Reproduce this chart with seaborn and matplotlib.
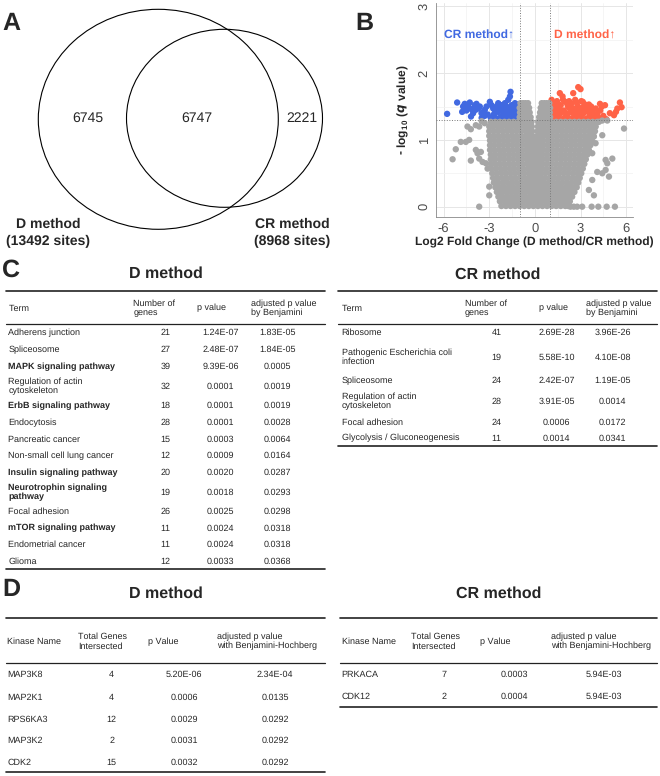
import numpy as np
import pandas as pd
import seaborn as sns
import matplotlib.pyplot as plt
from matplotlib.patches import Ellipse

sns.set_style("white")
plt.rcParams['font.family'] = ['Liberation Sans', 'DejaVu Sans']
plt.rcParams['axes.unicode_minus'] = False
plt.rcParams['text.hinting'] = 'no_hinting'
plt.rcParams['text.hinting_factor'] = 1
plt.rcParams['mathtext.fontset'] = 'custom'
plt.rcParams['mathtext.rm'] = 'Liberation Sans'
plt.rcParams['mathtext.it'] = 'Liberation Sans:italic'
plt.rcParams['mathtext.bf'] = 'Liberation Sans:bold'

# ---- panel A: venn counts
venn_counts = [6745, 6747, 2221]
venn_names = ["D method", "CR method"]
venn_sites = [13492, 8968]

# ---- panel B: volcano points
blue_x = [-5.77, -5.11, -4.78, -4.72, -4.61, -4.39, -4.28, -4.17, -4.06, -3.95, -3.84, -3.73,
          -3.62, -3.51, -3.40, -3.29, -3.18, -2.96, -2.85, -2.74, -2.63, -2.52, -2.41, -2.30,
          -2.19, -2.08, -1.97, -1.86, -1.75, -1.64, -1.60, -1.53, -1.42, -1.31, -1.20, -1.09,
          -2.9, -2.7, -2.5, -2.4, -2.2, -2.0, -1.9, -1.8, -1.7, -1.6, -1.5, -1.4, -1.3, -1.2,
          -1.1, -1.05, -1.6, -1.4, -1.25, -1.15, -1.35, -1.75, -2.1, -2.6, -3.1, -3.5, -4.2,
          -4.5, -3.9, -2.3, -1.95, -1.45, -1.1, -1.3, -1.55, -2.8, -3.3]
blue_y = [1.39, 1.56, 1.42, 1.50, 1.54, 1.51, 1.56, 1.46, 1.40, 1.52, 1.54, 1.47,
          1.50, 1.40, 1.42, 1.45, 1.50, 1.57, 1.52, 1.47, 1.40, 1.50, 1.55, 1.45,
          1.52, 1.42, 1.55, 1.50, 1.60, 1.65, 1.72, 1.52, 1.45, 1.55, 1.40, 1.50,
          1.33, 1.38, 1.32, 1.42, 1.35, 1.31, 1.38, 1.44, 1.33, 1.40, 1.36, 1.31, 1.42, 1.33,
          1.37, 1.45, 1.48, 1.50, 1.47, 1.53, 1.38, 1.37, 1.48, 1.45, 1.38, 1.33, 1.35,
          1.44, 1.45, 1.33, 1.46, 1.41, 1.32, 1.31, 1.32, 1.32, 1.36]

red_x = [1.64, 1.82, 2.52, 2.85, 3.00, 4.61, 4.28, 4.93, 5.20, 5.33, 5.42, 5.59, 5.70,
         1.05, 1.1, 1.2, 1.3, 1.4, 1.5, 1.6, 1.7, 1.8, 1.9, 2.0, 2.1, 2.2, 2.3, 2.4, 2.5,
         2.6, 2.7, 2.8, 2.9, 3.0, 3.1, 3.2, 3.3, 3.4, 3.5, 3.6, 3.7, 3.8, 3.9, 4.0, 4.1,
         4.3, 4.5, 4.7, 1.15, 1.25, 1.45, 1.55, 1.75, 1.95, 2.15, 2.35, 2.55, 2.75, 2.95,
         3.15, 3.35, 3.55, 3.75, 1.35, 1.65, 2.05, 2.45, 2.85, 3.25, 3.65, 4.2, 4.4, 1.1,
         1.85, 2.25, 2.65, 3.05, 1.05, 1.3, 1.55, 2.0, 2.4, 2.8, 3.2, 3.6]
red_y = [1.70, 1.65, 1.70, 1.79, 1.76, 1.52, 1.54, 1.40, 1.37, 1.42, 1.47, 1.56, 1.49,
         1.35, 1.50, 1.42, 1.55, 1.33, 1.46, 1.38, 1.52, 1.31, 1.44, 1.57, 1.36, 1.49, 1.41, 1.54, 1.33,
         1.46, 1.38, 1.51, 1.43, 1.35, 1.48, 1.40, 1.53, 1.32, 1.45, 1.37, 1.50, 1.42, 1.34, 1.47, 1.39,
         1.44, 1.36, 1.31, 1.32, 1.47, 1.58, 1.30, 1.41, 1.33, 1.52, 1.31, 1.40, 1.56, 1.31,
         1.57, 1.43, 1.53, 1.33, 1.38, 1.45, 1.40, 1.47, 1.36, 1.47, 1.43, 1.33, 1.50, 1.60,
         1.60, 1.58, 1.60, 1.58, 1.55, 1.31, 1.52, 1.32, 1.31, 1.31, 1.31, 1.31]

gray_rows_y = [1.55, 1.48, 1.41, 1.34, 1.27, 1.20, 1.13, 1.06, 0.99, 0.92, 0.85, 0.78,
               0.71, 0.64, 0.57, 0.50, 0.43, 0.36, 0.29, 0.22, 0.15, 0.08, 0.01]
gray_rows_x = [
    [-0.95, -0.78, -0.62, -0.45, 0.45, 0.62, 0.78, 0.95],
    [-1.0, -0.84, -0.68, -0.52, -0.38, 0.38, 0.52, 0.68, 0.84, 1.0],
    [-0.98, -0.82, -0.66, -0.5, -0.34, 0.34, 0.5, 0.66, 0.82, 0.98],
    [-1.0, -0.84, -0.68, -0.52, -0.38, -0.28, 0.28, 0.4, 0.55, 0.72, 0.88, 1.0],
    [-2.9, -2.6, -2.3, -2.0, -1.7, -1.4, -1.1, -0.85, -0.6, -0.4, -0.22, 0.22, 0.4, 0.6, 0.85, 1.1, 1.4, 1.7, 2.0, 2.3, 2.6, 2.9, 3.2, 3.5, 3.8, 4.1],
    [-3.0, -2.75, -2.45, -2.15, -1.85, -1.55, -1.25, -0.95, -0.65, -0.4, -0.2, 0.2, 0.4, 0.6, 0.9, 1.2, 1.5, 1.8, 2.1, 2.4, 2.7, 3.0, 3.3, 3.6, 3.85, 4.0],
    [-3.0, -2.7, -2.4, -2.1, -1.8, -1.5, -1.2, -0.9, -0.6, -0.38, -0.18, 0.18, 0.38, 0.6, 0.85, 1.15, 1.45, 1.75, 2.05, 2.35, 2.65, 2.95, 3.25, 3.55, 3.8, 3.95],
    [-3.0, -2.72, -2.42, -2.12, -1.82, -1.52, -1.22, -0.92, -0.62, -0.36, -0.16, 0.16, 0.36, 0.6, 0.9, 1.2, 1.5, 1.8, 2.1, 2.4, 2.7, 3.0, 3.3, 3.6, 3.85],
    [-2.95, -2.65, -2.35, -2.05, -1.75, -1.45, -1.15, -0.85, -0.55, -0.32, -0.13, 0.13, 0.32, 0.55, 0.85, 1.15, 1.45, 1.75, 2.05, 2.35, 2.65, 2.95, 3.25, 3.5, 3.75],
    [-2.95, -2.68, -2.38, -2.08, -1.78, -1.48, -1.18, -0.88, -0.58, -0.32, -0.12, 0.12, 0.32, 0.58, 0.88, 1.18, 1.48, 1.78, 2.08, 2.38, 2.68, 2.98, 3.28, 3.5, 3.65],
    [-2.95, -2.65, -2.35, -2.05, -1.75, -1.45, -1.15, -0.85, -0.55, -0.3, -0.1, 0.1, 0.3, 0.55, 0.85, 1.15, 1.45, 1.75, 2.05, 2.35, 2.65, 2.95, 3.25, 3.55],
    [-2.9, -2.6, -2.3, -2.0, -1.7, -1.4, -1.1, -0.8, -0.5, -0.28, -0.09, 0.09, 0.28, 0.5, 0.8, 1.1, 1.4, 1.7, 2.0, 2.3, 2.6, 2.9, 3.2, 3.45],
    [-2.9, -2.62, -2.32, -2.02, -1.72, -1.42, -1.12, -0.82, -0.52, -0.27, -0.08, 0.08, 0.27, 0.52, 0.82, 1.12, 1.42, 1.72, 2.02, 2.32, 2.62, 2.92, 3.2, 3.35],
    [-2.9, -2.6, -2.3, -2.0, -1.7, -1.4, -1.1, -0.8, -0.5, -0.25, -0.07, 0.07, 0.25, 0.5, 0.8, 1.1, 1.4, 1.7, 2.0, 2.3, 2.6, 2.9, 3.15, 3.25],
    [-2.85, -2.55, -2.25, -1.95, -1.65, -1.35, -1.05, -0.75, -0.45, -0.22, -0.06, 0.06, 0.22, 0.45, 0.75, 1.05, 1.35, 1.65, 1.95, 2.25, 2.55, 2.85, 3.15],
    [-2.8, -2.5, -2.2, -1.9, -1.6, -1.3, -1.0, -0.7, -0.4, -0.2, -0.05, 0.05, 0.2, 0.4, 0.7, 1.0, 1.3, 1.6, 1.9, 2.2, 2.5, 2.8, 3.05],
    [-2.75, -2.47, -2.17, -1.87, -1.57, -1.27, -0.97, -0.67, -0.4, -0.18, 0.0, 0.18, 0.4, 0.67, 0.97, 1.27, 1.57, 1.87, 2.17, 2.47, 2.77, 2.95],
    [-2.7, -2.4, -2.1, -1.8, -1.5, -1.2, -0.9, -0.6, -0.35, -0.15, 0.02, 0.18, 0.35, 0.6, 0.9, 1.2, 1.5, 1.8, 2.1, 2.4, 2.7, 2.85],
    [-2.6, -2.32, -2.02, -1.72, -1.42, -1.12, -0.82, -0.52, -0.22, 0.0, 0.22, 0.52, 0.82, 1.12, 1.42, 1.72, 2.02, 2.32, 2.6, 2.75],
    [-2.5, -2.2, -1.9, -1.6, -1.3, -1.0, -0.7, -0.4, -0.1, 0.15, 0.4, 0.7, 1.0, 1.3, 1.6, 1.9, 2.2, 2.45, 2.6],
    [-2.4, -2.12, -1.82, -1.52, -1.22, -0.92, -0.62, -0.32, -0.05, 0.25, 0.55, 0.85, 1.15, 1.45, 1.75, 2.05, 2.3, 2.45],
    [-2.3, -2.0, -1.7, -1.4, -1.1, -0.8, -0.5, -0.2, 0.1, 0.4, 0.7, 1.0, 1.3, 1.6, 1.9, 2.15, 2.3],
    [-2.2, -1.9, -1.6, -1.3, -1.0, -0.7, -0.4, -0.1, 0.2, 0.5, 0.8, 1.1, 1.4, 1.7, 2.0, 2.2],
]
gray_out_x = [-4.43, -4.21, -3.88, -3.66, -4.87, -4.54, -4.32, -5.20, -5.41, -4.21, -3.88, -3.77,
              -3.55, -3.66, -3.44, -3.22, -3.11, -3.0, -3.0, -3.66, -3.3, -3.5,
              4.21, 4.43, 4.76, 5.86, 3.88, 4.43, 3.99, 3.77, 4.65, 4.76, 5.09, 4.10, 4.43,
              4.65, 4.87, 3.77, 3.55, 3.88, 2.34, 2.56, 2.78, 3.11, 3.73, 4.17, 4.72, 5.26]
gray_out_y = [1.20, 1.16, 1.22, 1.20, 0.97, 0.97, 1.00, 0.86, 0.71, 0.69, 0.85, 0.80,
              0.82, 0.72, 0.67, 0.65, 0.57, 0.17, 0.30, 0.0, 1.25, 1.28,
              1.27, 1.29, 1.29, 1.17, 1.05, 1.07, 0.95, 0.80, 0.70, 0.65, 0.72, 0.52, 0.50,
              0.55, 0.45, 0.40, 0.25, 0.17, 0.0, 0.0, 0.0, 0.0, 0.0, 0.0, 0.0, 0.0]

# ---- panel C tables
c_terms_d = ["Adherens junction", "Spliceosome", "MAPK signaling pathway",
             "Regulation of actin\ncytoskeleton", "ErbB signaling pathway", "Endocytosis",
             "Pancreatic cancer", "Non-small cell lung cancer", "Insulin signaling pathway",
             "Neurotrophin signaling\npathway", "Focal adhesion", "mTOR signaling pathway",
             "Endometrial cancer", "Glioma"]
c_genes_d = [21, 27, 39, 32, 18, 28, 15, 12, 20, 19, 26, 11, 11, 12]
c_p_d = ["1.24E-07", "2.48E-07", "9.39E-06", "0.0001", "0.0001", "0.0001", "0.0003",
         "0.0009", "0.0020", "0.0018", "0.0025", "0.0024", "0.0024", "0.0033"]
c_adj_d = ["1.83E-05", "1.84E-05", "0.0005", "0.0019", "0.0019", "0.0028", "0.0064",
           "0.0164", "0.0287", "0.0293", "0.0298", "0.0318", "0.0318", "0.0368"]
c_bold_d = [False, False, True, False, True, False, False, False, True, True, False, True, False, False]

c_terms_cr = ["Ribosome", "Pathogenic Escherichia coli\ninfection", "Spliceosome",
              "Regulation of actin\ncytoskeleton", "Focal adhesion", "Glycolysis / Gluconeogenesis"]
c_genes_cr = [41, 19, 24, 28, 24, 11]
c_p_cr = ["2.69E-28", "5.58E-10", "2.42E-07", "3.91E-05", "0.0006", "0.0014"]
c_adj_cr = ["3.96E-26", "4.10E-08", "1.19E-05", "0.0014", "0.0172", "0.0341"]

# ---- panel D tables
d_kin_d = ["MAP3K8", "MAP2K1", "RPS6KA3", "MAP3K2", "CDK2"]
d_tot_d = [4, 4, 12, 2, 15]
d_p_d = ["5.20E-06", "0.0006", "0.0029", "0.0031", "0.0032"]
d_adj_d = ["2.34E-04", "0.0135", "0.0292", "0.0292", "0.0292"]

d_kin_cr = ["PRKACA", "CDK12"]
d_tot_cr = [7, 2]
d_p_cr = ["0.0003", "0.0004"]
d_adj_cr = ["5.94E-03", "5.94E-03"]

c_headers = ["Term", "Number of\ngenes", "p value", "adjusted p value\nby Benjamini"]
d_headers = ["Kinase Name", "Total Genes\nIntersected", "p Value",
             "adjusted p value\nwith Benjamini-Hochberg"]

# ------------------------------------------------------------------
fig = plt.figure(figsize=(6.6, 7.76), dpi=100)
bg = fig.add_axes([0, 0, 1, 1], zorder=0)
bg.set_xlim(0, 660)
bg.set_ylim(776, 0)
bg.axis('off')

# panel letters
for letter, (lx, ly) in zip("ABCD", [(2, 24), (355, 24), (2, 270), (2, 590)]):
    bg.text(lx, ly, letter, fontsize=18, fontweight='bold', va='center', ha='left')

# venn
bg.add_patch(Ellipse((158.3, 119.3), 240, 220, fill=False, lw=0.8, ec='black'))
bg.add_patch(Ellipse((224.5, 118.3), 196, 178, fill=False, lw=0.8, ec='black'))
for cx, n in zip([88, 196.7, 301.7], venn_counts):
    bg.text(cx, 118, str(n), fontsize=10, ha='center', va='center')
for cx, name, n in zip([48, 292], venn_names, venn_sites):
    bg.text(cx, 224, name, fontsize=10, fontweight='bold', ha='center', va='center')
    bg.text(cx, 241, f"({n} sites)", fontsize=10, fontweight='bold', ha='center', va='center')

# volcano
frames = [pd.DataFrame({"x": blue_x, "y": blue_y, "g": "up_cr"}),
          pd.DataFrame({"x": red_x, "y": red_y, "g": "up_d"}),
          pd.DataFrame({"x": gray_out_x, "y": gray_out_y, "g": "ns"})]
for yy, xs in zip(gray_rows_y, gray_rows_x):
    frames.append(pd.DataFrame({"x": xs, "y": [yy] * len(xs), "g": "ns"}))
df = pd.concat(frames, ignore_index=True)

ax = fig.add_axes([436 / 660, 1 - 216.7 / 776, 197 / 660, 213.7 / 776], zorder=1)
ax.set_facecolor('white')
sns.scatterplot(data=df, x="x", y="y", hue="g", ax=ax, s=21, linewidth=0, edgecolor='none',
                legend=False,
                palette={"ns": "#A6A6A6", "up_cr": "#4169E1", "up_d": "#FF6347"}, zorder=2)
ax.set_xlim(-6.5, 6.45)
ax.set_ylim(-0.15, 3.05)
ax.set_xticks([-6, -3, 0, 3, 6])
ax.set_yticks([0, 1, 2, 3])
ax.set_xticks([-4.5, -1.5, 1.5, 4.5], minor=True)
ax.set_yticks([0.5, 1.5, 2.5], minor=True)
ax.grid(which='major', color='#E6E6E6', lw=0.7, zorder=0)
ax.grid(which='minor', color='#F2F2F2', lw=0.5, zorder=0)
ax.set_axisbelow(True)
for sp in ['top', 'right']:
    ax.spines[sp].set_visible(False)
for sp in ['left', 'bottom']:
    ax.spines[sp].set_color('#888888')
    ax.spines[sp].set_linewidth(0.6)
ax.tick_params(axis='both', which='major', labelsize=9.5, colors='#333333', length=2,
               width=0.5, pad=2, labelcolor='#4D4D4D')
ax.tick_params(axis='both', which='minor', length=0)
ax.tick_params(axis='y', labelrotation=90)
for t in ax.get_yticklabels():
    t.set_va('center')
ax.axvline(-1, color='#777777', ls=':', lw=0.7, zorder=3)
ax.axvline(1, color='#777777', ls=':', lw=0.7, zorder=3)
ax.axhline(1.3, color='#777777', ls=':', lw=0.7, zorder=3)
ax.set_xlabel("Log2 Fold Change (D method/CR method)", fontsize=8.3, fontweight='bold', labelpad=2)
ax.set_ylabel(r"- log$_{\mathbf{10}}$ ($\mathbfit{q}$ value)", fontsize=8.3, fontweight='bold', labelpad=5)
ax.text(-3.7, 2.57, "CR method↑", color='#4169E1', fontsize=8.5, fontweight='bold', ha='center', va='center')
ax.text(3.3, 2.57, "D method↑", color='#FF6347', fontsize=8.5, fontweight='bold', ha='center', va='center')


def draw_table(x0, x1, title, title_y, y_top, y_head, y_bot, headers, head_x, head_y,
               columns, col_x, col_ha, row_y, bold=None, size=6.6):
    bg.text((x0 + x1) / 2, title_y, title, fontsize=11.7, fontweight='bold', ha='center', va='center')
    bg.plot([x0, x1], [y_top, y_top], color='#222222', lw=1.2)
    bg.plot([x0, x1], [y_head, y_head], color='#222222', lw=0.9)
    bg.plot([x0, x1], [y_bot, y_bot], color='#222222', lw=1.2)
    for hx, h in zip(head_x, headers):
        bg.text(hx, head_y, h, fontsize=size, ha='left', va='center', linespacing=1.12)
    for i, ry in enumerate(row_y):
        for col, cx, ha in zip(columns, col_x, col_ha):
            w = 'bold' if (bold is not None and bold[i] and col is columns[0]) else 'normal'
            bg.text(cx, ry, str(col[i]), fontsize=size, ha=ha, va='center',
                    fontweight=w, linespacing=1.12)


draw_table(6, 325, "D method", 274, 290.7, 324, 569.3, c_headers, [8.3, 133.3, 196.7, 250.7], 308.3,
           [c_terms_d, c_genes_d, c_p_d, c_adj_d], [8.3, 165.7, 220.7, 277.7],
           ['left', 'center', 'center', 'center'],
           [332.6, 349.6, 366.3, 386.3, 405.7, 422.5, 439.2, 455.7, 472.3, 492.1, 511.4, 528.2, 545, 561.6],
           bold=c_bold_d)
draw_table(338, 657, "CR method", 275, 290.7, 324, 446, c_headers, [341.7, 465, 539.3, 586], 308.3,
           [c_terms_cr, c_genes_cr, c_p_cr, c_adj_cr], [341.7, 496.7, 556.7, 612.7],
           ['left', 'center', 'center', 'center'],
           [332.7, 357.2, 380.7, 401.3, 422.3, 438.3])
draw_table(6, 325, "D method", 593.5, 618.3, 662.7, 771.7, d_headers, [7.3, 78.3, 148.3, 216.7], 641.5,
           [d_kin_d, d_tot_d, d_p_d, d_adj_d], [7.3, 111.7, 184.3, 275],
           ['left', 'center', 'center', 'center'],
           [675, 697.3, 719.3, 741, 762.7], size=6.7)
draw_table(340, 657, "CR method", 593.5, 618.3, 662.7, 707.3, d_headers, [341.7, 411, 480, 550.7], 641.5,
           [d_kin_cr, d_tot_cr, d_p_cr, d_adj_cr], [341.7, 444.3, 514.3, 604.3],
           ['left', 'center', 'center', 'center'],
           [674.3, 696.7], size=6.7)

fig.savefig("out.png", dpi=100)
